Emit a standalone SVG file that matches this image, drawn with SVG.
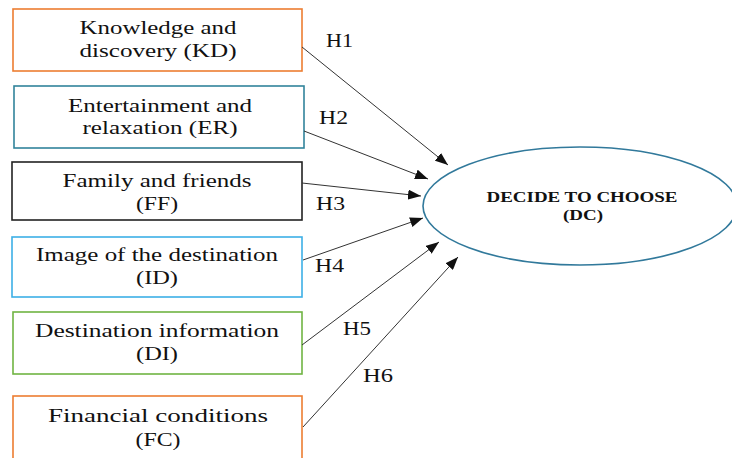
<svg xmlns="http://www.w3.org/2000/svg" width="732" height="458" viewBox="0 0 732 458">
<defs>
<style>
.box{fill:#fff;stroke-width:1.6}
.t{font-family:"Liberation Serif","Times New Roman",serif;font-size:18px;fill:#111;text-anchor:middle}
.h{font-family:"Liberation Serif","Times New Roman",serif;font-size:18px;fill:#111}
.dc{font-family:"Liberation Serif","Times New Roman",serif;font-size:15px;font-weight:bold;fill:#111;text-anchor:middle}
.c{stroke:#333;stroke-width:1;fill:none;marker-end:url(#ah)}
</style>
<marker id="ah" markerWidth="14" markerHeight="10" refX="13" refY="5" orient="auto" markerUnits="userSpaceOnUse">
<path d="M0,0 L13,5 L0,10 Z" fill="#111"/>
</marker>
</defs>
<rect width="732" height="458" fill="#fff"/>
<g id="KD">
<rect class="box" x="13" y="9" width="289" height="62" stroke="#ED7D31"/>
<text class="t" x="158" y="34" textLength="157" lengthAdjust="spacingAndGlyphs">Knowledge and</text>
<text class="t" x="158" y="57" textLength="157" lengthAdjust="spacingAndGlyphs">discovery (KD)</text>
</g>
<g id="ER">
<rect class="box" x="14" y="86" width="290" height="62" stroke="#31849B"/>
<text class="t" x="160" y="112" textLength="184" lengthAdjust="spacingAndGlyphs">Entertainment and</text>
<text class="t" x="160" y="134" textLength="155" lengthAdjust="spacingAndGlyphs">relaxation (ER)</text>
</g>
<g id="FF">
<rect class="box" x="12" y="162" width="290" height="58" stroke="#222"/>
<text class="t" x="157" y="187" textLength="189" lengthAdjust="spacingAndGlyphs">Family and friends</text>
<text class="t" x="157" y="210" textLength="42" lengthAdjust="spacingAndGlyphs">(FF)</text>
</g>
<g id="ID">
<rect class="box" x="12" y="237" width="290" height="60" stroke="#3DB0E6"/>
<text class="t" x="157" y="261" textLength="242" lengthAdjust="spacingAndGlyphs">Image of the destination</text>
<text class="t" x="157" y="284" textLength="42" lengthAdjust="spacingAndGlyphs">(ID)</text>
</g>
<g id="DI">
<rect class="box" x="13" y="312" width="289" height="62" stroke="#70B443"/>
<text class="t" x="157" y="337" textLength="244" lengthAdjust="spacingAndGlyphs">Destination information</text>
<text class="t" x="157" y="360" textLength="42" lengthAdjust="spacingAndGlyphs">(DI)</text>
</g>
<g id="FC">
<rect class="box" x="13" y="396" width="289" height="80" stroke="#ED7D31"/>
<text class="t" x="158" y="422" textLength="220" lengthAdjust="spacingAndGlyphs">Financial conditions</text>
<text class="t" x="158" y="446" textLength="45" lengthAdjust="spacingAndGlyphs">(FC)</text>
</g>
<g id="DC">
<ellipse cx="580" cy="206" rx="157" ry="59" fill="#fff" stroke="#31799B" stroke-width="1.6"/>
<text class="dc" x="582" y="202" textLength="191" lengthAdjust="spacingAndGlyphs">DECIDE TO CHOOSE</text>
<text class="dc" x="583" y="220" textLength="40" lengthAdjust="spacingAndGlyphs">(DC)</text>
</g>
<g id="connectors">
<line class="c" x1="302" y1="47" x2="448" y2="165"/>
<line class="c" x1="304" y1="131" x2="428" y2="179"/>
<line class="c" x1="302" y1="183" x2="421" y2="196"/>
<line class="c" x1="303" y1="260" x2="423" y2="218"/>
<line class="c" x1="302" y1="345" x2="439" y2="242"/>
<line class="c" x1="303" y1="427" x2="458" y2="257"/>
<text class="h" x="326" y="47" textLength="27" lengthAdjust="spacingAndGlyphs">H1</text>
<text class="h" x="319" y="124" textLength="29" lengthAdjust="spacingAndGlyphs">H2</text>
<text class="h" x="316" y="210" textLength="29" lengthAdjust="spacingAndGlyphs">H3</text>
<text class="h" x="315" y="272" textLength="29" lengthAdjust="spacingAndGlyphs">H4</text>
<text class="h" x="343" y="335" textLength="28" lengthAdjust="spacingAndGlyphs">H5</text>
<text class="h" x="363" y="382" textLength="30" lengthAdjust="spacingAndGlyphs">H6</text>
</g>
</svg>
